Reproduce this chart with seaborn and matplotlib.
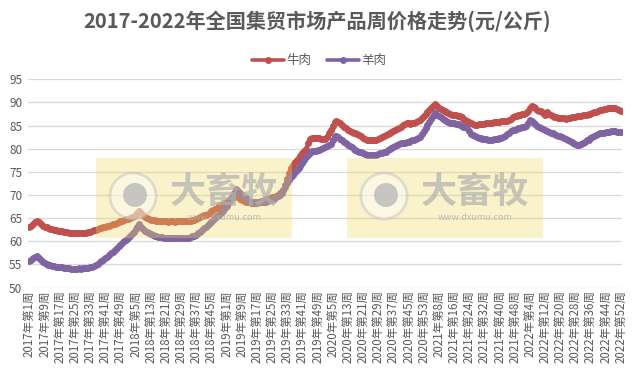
import numpy as np
import pandas as pd
import seaborn as sns
import matplotlib.pyplot as plt
from matplotlib.patches import Rectangle, Circle

# weekly prices, yuan/kg
years = [2017, 2018, 2019, 2020, 2021, 2022]
weeks_per_year = [52, 52, 52, 53, 52, 52]

beef_2017 = [63.1, 63.4, 63.8, 64.2, 64.5, 64.1, 63.7, 63.4, 63.2, 63.0, 62.9, 62.7, 62.6, 62.5, 62.4, 62.3, 62.3, 62.2, 62.1, 62.0,
             62.0, 61.9, 61.9, 61.8, 61.8, 61.8, 61.8, 61.9, 61.8, 61.9, 61.9, 62.0, 62.1, 62.2, 62.4, 62.5, 62.6, 62.8, 62.9, 63.1,
             63.2, 63.3, 63.3, 63.5, 63.7, 63.8, 64.0, 64.1, 64.3, 64.4, 64.6, 64.8]
beef_2018 = [64.9, 65.0, 65.2, 65.4, 65.7, 66.1, 66.6, 66.2, 65.7, 65.3, 65.0, 64.8, 64.7, 64.6, 64.6, 64.5, 64.4, 64.4, 64.3, 64.3,
             64.3, 64.2, 64.3, 64.3, 64.3, 64.2, 64.3, 64.3, 64.4, 64.3, 64.4, 64.4, 64.4, 64.5, 64.6, 64.7, 64.9, 65.0, 65.2, 65.4,
             65.6, 65.8, 66.0, 66.2, 66.5, 66.7, 67.0, 67.3, 67.6, 67.8, 68.1, 68.3]
beef_2019 = [68.5, 68.8, 69.1, 69.4, 69.6, 69.8, 69.5, 69.2, 69.0, 68.8, 68.6, 68.5, 68.4, 68.3, 68.3, 68.4, 68.5, 68.6, 68.7, 68.8,
             69.0, 69.1, 69.2, 69.3, 69.5, 69.6, 69.8, 70.1, 70.4, 70.7, 71.0, 72.2, 73.5, 74.7, 75.8, 76.5, 77.1, 77.6, 78.0, 78.5,
             79.0, 79.5, 80.0, 81.2, 82.2, 82.3, 82.4, 82.3, 82.3, 82.3, 82.2, 82.2]
beef_2020 = [82.2, 82.6, 83.3, 84.0, 85.0, 85.8, 85.9, 85.8, 85.6, 85.2, 84.8, 84.4, 84.1, 83.8, 83.6, 83.5, 83.3, 83.2, 83.0, 82.7,
             82.4, 82.2, 82.0, 82.0, 81.9, 82.0, 82.0, 82.0, 82.2, 82.4, 82.6, 82.8, 83.0, 83.2, 83.4, 83.6, 83.8, 84.0, 84.3, 84.5,
             84.8, 85.1, 85.4, 85.6, 85.5, 85.4, 85.5, 85.6, 85.8, 86.0, 86.2, 86.6, 87.0]
beef_2021 = [87.5, 87.9, 88.4, 88.8, 89.2, 89.6, 89.3, 88.9, 88.5, 88.3, 88.1, 87.9, 87.7, 87.5, 87.4, 87.3, 87.2, 87.1, 87.0, 86.8,
             86.5, 86.3, 86.0, 85.8, 85.6, 85.4, 85.2, 85.2, 85.3, 85.3, 85.4, 85.4, 85.5, 85.5, 85.6, 85.6, 85.7, 85.7, 85.8, 85.8,
             85.9, 85.9, 85.9, 86.1, 86.3, 86.5, 86.8, 87.0, 87.1, 87.2, 87.3, 87.5]
beef_2022 = [87.6, 87.7, 88.2, 88.8, 89.3, 89.0, 88.7, 88.4, 88.2, 88.1, 87.7, 87.4, 87.9, 87.6, 87.3, 87.1, 86.9, 86.8, 86.7, 86.7,
             86.6, 86.6, 86.5, 86.6, 86.7, 86.8, 86.8, 86.9, 87.0, 87.0, 87.1, 87.2, 87.3, 87.4, 87.5, 87.6, 87.7, 87.9, 88.0, 88.1,
             88.3, 88.4, 88.5, 88.6, 88.7, 88.7, 88.7, 88.8, 88.7, 88.6, 88.4, 88.1]

mutton_2017 = [55.7, 56.0, 56.4, 56.7, 56.9, 56.5, 56.0, 55.6, 55.3, 55.1, 54.9, 54.8, 54.7, 54.6, 54.5, 54.5, 54.4, 54.4, 54.3, 54.3,
               54.2, 54.2, 54.1, 54.1, 54.1, 54.1, 54.2, 54.1, 54.2, 54.2, 54.2, 54.3, 54.4, 54.5, 54.6, 54.9, 55.2, 55.5, 55.8, 56.0,
               56.3, 56.7, 57.1, 57.4, 57.8, 58.2, 58.6, 58.9, 59.3, 59.6, 60.0, 60.3]
mutton_2018 = [60.7, 61.2, 61.6, 62.1, 62.6, 63.1, 63.7, 63.2, 62.7, 62.3, 62.0, 61.7, 61.5, 61.3, 61.2, 61.1, 61.0, 60.9, 60.9, 60.8,
               60.8, 60.8, 60.7, 60.8, 60.7, 60.8, 60.7, 60.8, 60.8, 60.8, 60.8, 60.8, 60.8, 61.0, 61.1, 61.2, 61.4, 61.7, 62.0, 62.4,
               62.8, 63.1, 63.5, 63.9, 64.2, 64.6, 65.0, 65.4, 65.8, 66.2, 66.6, 67.1]
mutton_2019 = [67.7, 68.2, 68.8, 69.6, 70.5, 71.3, 70.9, 70.4, 70.0, 69.6, 69.3, 69.0, 68.8, 68.6, 68.4, 68.3, 68.3, 68.4, 68.4, 68.5,
               68.5, 68.6, 68.7, 68.9, 69.0, 69.2, 69.5, 69.7, 70.0, 70.5, 71.1, 71.8, 72.5, 73.2, 73.8, 74.4, 75.0, 75.4, 75.9, 76.3,
               76.9, 77.6, 78.2, 78.7, 79.1, 79.5, 79.6, 79.6, 79.7, 79.8, 79.9, 80.1]
mutton_2020 = [80.3, 80.5, 80.8, 81.0, 81.8, 82.8, 82.8, 82.5, 82.2, 81.8, 81.5, 81.2, 80.9, 80.6, 80.3, 80.0, 79.8, 79.6, 79.4, 79.2,
               79.0, 78.8, 78.7, 78.6, 78.7, 78.6, 78.7, 78.7, 78.8, 79.0, 79.1, 79.3, 79.4, 79.7, 79.9, 80.2, 80.4, 80.6, 80.8, 81.0,
               81.2, 81.2, 81.3, 81.4, 81.5, 81.6, 81.8, 82.0, 82.2, 82.4, 82.6, 83.2, 83.8]
mutton_2021 = [84.5, 85.2, 85.8, 86.5, 87.1, 87.7, 87.4, 87.1, 86.8, 86.5, 86.3, 86.0, 85.8, 85.6, 85.5, 85.5, 85.4, 85.3, 85.2, 85.0,
               84.8, 84.7, 84.5, 83.8, 83.2, 83.0, 82.8, 82.6, 82.4, 82.3, 82.2, 82.1, 82.1, 82.0, 82.0, 82.0, 82.1, 82.2, 82.2, 82.3,
               82.4, 82.5, 82.7, 83.1, 83.4, 83.8, 84.0, 84.1, 84.3, 84.4, 84.5, 84.7]
mutton_2022 = [84.8, 85.0, 85.6, 86.3, 85.9, 85.6, 85.3, 85.0, 84.7, 84.4, 84.2, 84.0, 83.8, 83.6, 83.4, 83.3, 83.1, 83.0, 82.8, 82.7,
               82.5, 82.3, 82.1, 81.9, 81.6, 81.4, 81.2, 81.0, 80.8, 80.9, 81.0, 81.2, 81.5, 81.8, 82.0, 82.3, 82.5, 82.7, 83.0, 83.2,
               83.3, 83.4, 83.5, 83.6, 83.7, 83.7, 83.8, 83.8, 83.8, 83.7, 83.7, 83.6]

beef = beef_2017 + beef_2018 + beef_2019 + beef_2020 + beef_2021 + beef_2022
mutton = mutton_2017 + mutton_2018 + mutton_2019 + mutton_2020 + mutton_2021 + mutton_2022

week_labels = []
for y, n in zip(years, weeks_per_year):
    for w in range(1, n + 1):
        week_labels.append(f'{y}年第{w}周')

n = len(week_labels)
df = pd.DataFrame({
    'idx': list(range(n)) * 2,
    'price': beef + mutton,
    'type': ['牛肉'] * n + ['羊肉'] * n,
})

sns.set_style('white')
plt.rcParams['font.family'] = ['Noto Sans CJK SC', 'DejaVu Sans']

fig = plt.figure(figsize=(6.35, 3.76), dpi=100)
ax = fig.add_axes([0.044, 0.235, 0.936, 0.554])

sns.lineplot(data=df, x='idx', y='price', hue='type', palette={'牛肉': '#C0504D', '羊肉': '#8064A2'},
             marker='o', markersize=5, markeredgewidth=0, linewidth=2.6, ax=ax)

ax.set_xlim(-0.8, n - 0.2)
ax.set_ylim(50, 95)
ax.set_yticks(range(50, 96, 5))
ax.set_xticks(range(0, n, 8))
ax.set_xticklabels([week_labels[i] for i in range(0, n, 8)], rotation=90, fontsize=8.3, color='#595959')
ax.tick_params(axis='y', labelsize=8.5, labelcolor='#595959', length=0, pad=4)
ax.tick_params(axis='x', length=0, pad=2)
ax.grid(axis='y', color='#D9D9D9', linewidth=0.9)
ax.set_xlabel('')
ax.set_ylabel('')
for s in ax.spines.values():
    s.set_visible(False)

leg = ax.legend(loc='lower center', bbox_to_anchor=(0.49, 1.005), ncol=2, frameon=False, fontsize=9,
                handlelength=2.6, columnspacing=1.2, handletextpad=0.2)
for t in leg.get_texts():
    t.set_color('#595959')

fig.text(0.5, 0.945, '2017-2022年全国集贸市场产品周价格走势(元/公斤)', ha='center', va='center',
         fontsize=14.5, fontweight='bold', color='#595959')

# watermark overlays
W, H = 635, 376
for x0 in (96, 347):
    fig.patches.append(Rectangle((x0 / W, 1 - 238 / H), 196 / W, 80 / H, transform=fig.transFigure,
                                 facecolor='#F0D860', alpha=0.33, edgecolor='none', zorder=5))
    cx, cy = x0 + 37, H - 196
    fig.patches.append(Circle((cx, cy), 23, transform=None, facecolor='white', alpha=0.45,
                              edgecolor='#BDBDBD', linewidth=2, zorder=6))
    fig.patches.append(Circle((cx + 2, cy + 1), 12, transform=None, facecolor='#BDBDBD', alpha=0.85,
                              edgecolor='none', zorder=7))
    fig.text((x0 + 128) / W, 1 - 192 / H, '大畜牧', ha='center', va='center', fontsize=26,
             fontweight='bold', color='#B0B0B0', alpha=0.7, zorder=8)
    fig.text((x0 + 128) / W, 1 - 218 / H, 'www.dxumu.com', ha='center', va='center', fontsize=6.5,
             color='#B0B0B0', alpha=0.8, zorder=8)

fig.savefig('out.png', dpi=100)
